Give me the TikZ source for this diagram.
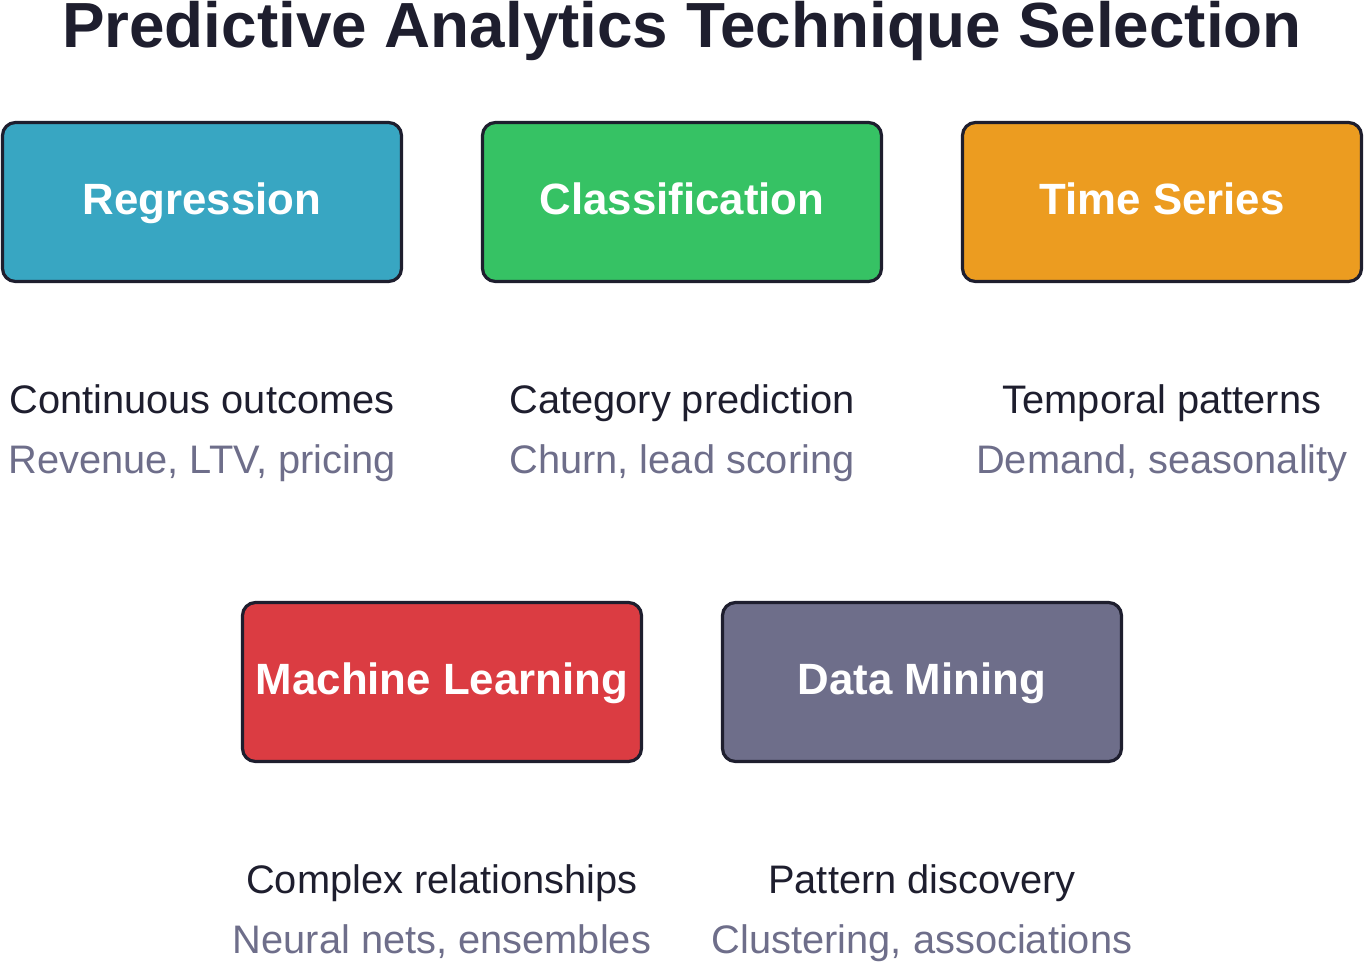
\documentclass[tikz,border=0pt]{standalone}
\usepackage{fontspec}
\setmainfont{Liberation Sans}
\definecolor{ink}{HTML}{1E1E2E}
\definecolor{muted}{HTML}{6E6E8A}
\definecolor{creg}{HTML}{38A6C2}
\definecolor{ccls}{HTML}{36C264}
\definecolor{cts}{HTML}{EC9C20}
\definecolor{cml}{HTML}{DB3C42}
\definecolor{cdm}{HTML}{6E6E8A}
\tikzset{
  techbox/.style={draw=ink, line width=3.2pt, rounded corners=13pt, minimum width=399pt, minimum height=159pt, inner sep=0pt},
  techlabel/.style={anchor=base, inner sep=0pt, text=white, font=\fontsize{43.8}{50}\selectfont\bfseries},
  descmain/.style={anchor=base, inner sep=0pt, text=ink, font=\fontsize{39.8}{46}\selectfont},
  descsub/.style={anchor=base, inner sep=0pt, text=muted, font=\fontsize{39.8}{46}\selectfont},
}
\begin{document}
\begin{tikzpicture}[x=1pt,y=-1pt]
\useasboundingbox (0,0) rectangle (1364,962);
\node[anchor=base, inner sep=0pt, text=ink, font=\fontsize{63.8}{70}\selectfont\bfseries] (title) at (682,47.5) {Predictive Analytics Technique Selection};
% boxes
\node[techbox, fill=creg] (reg) at (202,202) {};
\node[techbox, fill=ccls] (cls) at (682,202) {};
\node[techbox, fill=cts] (ts) at (1162,202) {};
\node[techbox, fill=cml] (ml) at (442,682) {};
\node[techbox, fill=cdm] (dm) at (922,682) {};
% labels
\node[techlabel] (regl) at (202,214.5) {Regression};
\node[techlabel] (clsl) at (682,214.5) {Classification};
\node[techlabel] (tsl) at (1162,214.5) {Time Series};
\node[techlabel] (mll) at (442,694.5) {Machine Learning};
\node[techlabel] (dml) at (922,694.5) {Data Mining};
% descriptions
\node[descmain] (regd) at (202,413.5) {Continuous outcomes};
\node[descsub] (regs) at (202,473.5) {Revenue, LTV, pricing};
\node[descmain] (clsd) at (682,413.5) {Category prediction};
\node[descsub] (clss) at (682,473.5) {Churn, lead scoring};
\node[descmain] (tsd) at (1162,413.5) {Temporal patterns};
\node[descsub] (tss) at (1162,473.5) {Demand, seasonality};
\node[descmain] (mld) at (442,893.5) {Complex relationships};
\node[descsub] (mls) at (442,953.5) {Neural nets, ensembles};
\node[descmain] (dmd) at (922,893.5) {Pattern discovery};
\node[descsub] (dms) at (922,953.5) {Clustering, associations};
\end{tikzpicture}
\end{document}
